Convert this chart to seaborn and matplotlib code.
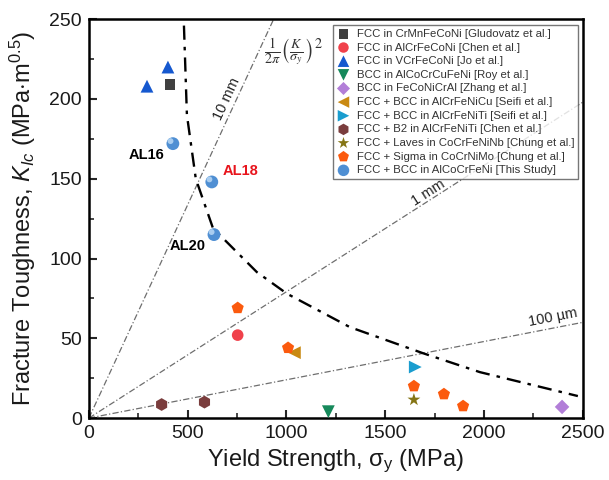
import numpy as np
import pandas as pd
import matplotlib
matplotlib.use("Agg")
import matplotlib.pyplot as plt
import seaborn as sns

# ---- data -------------------------------------------------------------
sources = [
    "FCC in CrMnFeCoNi [Gludovatz et al.]",
    "FCC in AlCrFeCoNi [Chen et al.]",
    "FCC in VCrFeCoNi [Jo et al.]",
    "BCC in AlCoCrCuFeNi [Roy et al.]",
    "BCC in FeCoNiCrAl [Zhang et al.]",
    "FCC + BCC in AlCrFeNiCu [Seifi et al.]",
    "FCC + BCC in AlCrFeNiTi [Seifi et al.]",
    "FCC + B2 in AlCrFeNiTi [Chen et al.]",
    "FCC + Laves in CoCrFeNiNb [Chung et al.]",
    "FCC + Sigma in CoCrNiMo [Chung et al.]",
    "FCC + BCC in AlCoCrFeNi [This Study]",
]
yield_strength = [
    [410],
    [753],
    [400, 294],
    [1212],
    [2395],
    [1040],
    [1652],
    [368, 585],
    [1645],
    [753, 1008, 1645, 1797, 1894],
    [425, 622, 633],
]
toughness = [
    [209],
    [52],
    [220, 208],
    [4],
    [7],
    [41],
    [32],
    [8.5, 10],
    [11.5],
    [69, 44, 20, 15, 7.5],
    [172, 148, 115],
]
study_labels = ["AL16", "AL18", "AL20"]

# crack-size guide lines: end point of each line through the origin
guide_names = ["10 mm", "1 mm", "100 \u00b5m"]
guide_end_x = [935, 2500, 2500]
guide_end_y = [250, 198, 60]

# plastic-zone boundary curve
curve_x = [481, 496, 541, 628, 850, 1002, 1321, 1690, 1979, 2475]
curve_y = [246, 190, 150, 119, 91.5, 78, 57, 40.7, 28.8, 13.8]

# ---- styling ----------------------------------------------------------
colors = ["#404040", "#f0414b", "#1558cf", "#16895b", "#b27ed8", "#c98912",
          "#1a9dcf", "#7a3d3d", "#857515", "#fb5a0e", "#4f8fd3"]
markers = ["s", "o", "^", "v", "D", "<", ">", "h", "*", "p", "o"]
sizes = [55, 70, 85, 85, 55, 85, 85, 85, 95, 85, 85]

rows = []
for src, xs, ys in zip(sources, yield_strength, toughness):
    for x, y in zip(xs, ys):
        rows.append({"source": src, "sigma": x, "K": y})
df = pd.DataFrame(rows)

sns.set_theme(style="white")
plt.rcParams["font.family"] = ["Liberation Sans", "DejaVu Sans"]
plt.rcParams["mathtext.fontset"] = "custom"
plt.rcParams["mathtext.rm"] = "Liberation Sans"
plt.rcParams["mathtext.it"] = "Liberation Sans:italic"
plt.rcParams["mathtext.bf"] = "Liberation Sans:bold"

fig = plt.figure(figsize=(6.09, 4.80), dpi=100)
ax = fig.add_axes([0.146, 0.129, 0.811, 0.831])

# guide lines for constant crack size
for name, ex, ey in zip(guide_names, guide_end_x, guide_end_y):
    ax.plot([0, ex], [0, ey], color="#6e6e6e", lw=0.9,
            ls=(0, (5, 1.8, 1, 1.8)), zorder=1)

ax.plot(curve_x, curve_y, color="black", lw=1.7, ls=(0, (6, 3, 1.5, 3)), zorder=2)

for i, src in enumerate(sources):
    sub = df[df["source"] == src]
    sns.scatterplot(data=sub, x="sigma", y="K", ax=ax, marker=markers[i],
                    color=colors[i], s=sizes[i], edgecolor="none",
                    label=src, zorder=4)

# shading highlight on the study spheres
study = df[df["source"] == sources[-1]]
ax.scatter(study["sigma"] - 12, study["K"] + 1.6, s=18, color="#a9cdf0",
           edgecolor="none", zorder=5)

ax.set_xlim(0, 2500)
ax.set_ylim(0, 250)
ax.set_xticks(np.arange(0, 2501, 500))
ax.set_yticks(np.arange(0, 251, 50))
ax.set_xticks(np.arange(250, 2500, 500), minor=True)
ax.set_yticks(np.arange(25, 250, 50), minor=True)
ax.tick_params(which="major", direction="in", length=6, width=1.5,
               labelsize=14, pad=5, top=False, right=False, bottom=True, left=True,
               labelcolor="#1a1a1a")
ax.tick_params(which="minor", direction="in", length=3.5, width=1.2,
               top=False, right=False, bottom=True, left=True)
for sp in ax.spines.values():
    sp.set_color("black")
    sp.set_linewidth(1.8)

ax.set_xlabel(r"Yield Strength, $\mathrm{\sigma_y}$ (MPa)", fontsize=17, labelpad=4,
              color="#1a1a1a")
ax.set_ylabel(r"Fracture Toughness, $K_{Ic}$ (MPa$\cdot$m$^{0.5}$)", fontsize=17,
              labelpad=8, color="#1a1a1a")

# labels for the study alloys
ax.text(study["sigma"].iloc[0] - 45, study["K"].iloc[0] - 7, study_labels[0],
        ha="right", va="center", fontsize=10.5, fontweight="bold", color="black")
ax.text(study["sigma"].iloc[1] + 55, study["K"].iloc[1] + 7, study_labels[1],
        ha="left", va="center", fontsize=10.5, fontweight="bold", color="#e8141c")
ax.text(study["sigma"].iloc[2] - 40, study["K"].iloc[2] - 7, study_labels[2],
        ha="right", va="center", fontsize=10.5, fontweight="bold", color="black")

# guide line labels, rotated with each line
def line_angle(ex, ey):
    p0 = ax.transData.transform((0, 0))
    p1 = ax.transData.transform((ex, ey))
    return np.degrees(np.arctan2(p1[1] - p0[1], p1[0] - p0[0]))

label_pos = [(700, 200), (1720, 141), (2350, 63)]
for name, (lx, ly), ex, ey in zip(guide_names, label_pos, guide_end_x, guide_end_y):
    ax.text(lx, ly, name, rotation=line_angle(ex, ey), rotation_mode="anchor",
            ha="center", va="center", fontsize=10.5, color="#222222")

ax.text(1035, 229, r"$\frac{1}{2\pi}\left(\frac{K}{\sigma_y}\right)^2$",
        math_fontfamily="stix", fontsize=14.5, ha="center", va="center",
        color="#333333")

leg = ax.legend(loc="upper right", bbox_to_anchor=(0.995, 0.99), fontsize=8.2,
                frameon=True, fancybox=False, edgecolor="#555555",
                handletextpad=0.6, labelspacing=0.32, borderpad=0.3,
                handlelength=1.2, markerscale=0.9, borderaxespad=0.2)
leg.get_frame().set_linewidth(1.0)
for t in leg.get_texts():
    t.set_color("#333333")
leg.set_zorder(10)

fig.savefig("out.png", dpi=100)
